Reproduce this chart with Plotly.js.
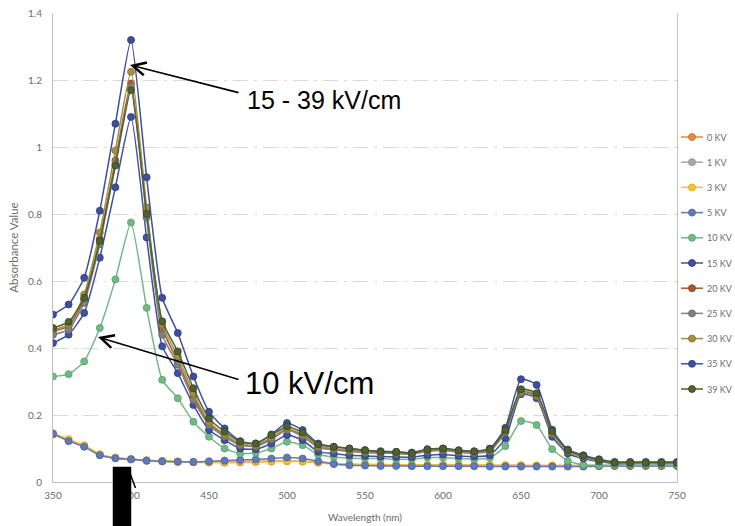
<!DOCTYPE html>
<html>
<head>
<meta charset="utf-8">
<script src="https://cdn.plot.ly/plotly-3.0.1.min.js"></script>
<style>html,body{margin:0;padding:0;background:#fff;}#chart{width:735px;height:526px;}</style>
</head>
<body>
<div id="chart"></div>
<script>
const wavelength = [350,360,370,380,390,400,410,420,430,440,450,460,470,480,490,500,510,520,530,540,550,560,570,580,590,600,610,620,630,640,650,660,670,680,690,700,710,720,730,740,750];
const seriesNames = ['0 KV','1 KV','3 KV','5 KV','10 KV','15 KV','20 KV','25 KV','30 KV','35 KV','39 KV'];
const kv0  = [0.142,0.125,0.108,0.082,0.072,0.068,0.064,0.062,0.060,0.059,0.058,0.058,0.059,0.060,0.061,0.062,0.061,0.058,0.055,0.053,0.052,0.052,0.051,0.051,0.051,0.051,0.051,0.050,0.050,0.050,0.050,0.049,0.049,0.049,0.049,0.049,0.049,0.049,0.049,0.049,0.049];
const kv1  = [0.143,0.124,0.107,0.081,0.071,0.067,0.063,0.061,0.060,0.059,0.059,0.060,0.061,0.062,0.063,0.064,0.062,0.058,0.054,0.052,0.051,0.050,0.050,0.050,0.050,0.050,0.049,0.049,0.049,0.048,0.048,0.048,0.048,0.048,0.048,0.048,0.048,0.048,0.048,0.048,0.048];
const kv3  = [0.146,0.128,0.110,0.083,0.073,0.069,0.065,0.063,0.061,0.060,0.060,0.060,0.061,0.061,0.062,0.063,0.062,0.058,0.055,0.053,0.052,0.051,0.051,0.051,0.050,0.050,0.050,0.050,0.050,0.049,0.049,0.049,0.049,0.049,0.049,0.049,0.049,0.049,0.049,0.049,0.049];
const kv5  = [0.144,0.122,0.105,0.080,0.071,0.068,0.064,0.062,0.061,0.060,0.062,0.064,0.066,0.067,0.070,0.073,0.070,0.062,0.054,0.050,0.049,0.048,0.048,0.047,0.047,0.047,0.047,0.047,0.046,0.046,0.046,0.046,0.046,0.046,0.046,0.047,0.048,0.048,0.048,0.048,0.048];
const kv10 = [0.315,0.322,0.360,0.460,0.605,0.775,0.520,0.305,0.250,0.180,0.135,0.100,0.085,0.087,0.100,0.120,0.110,0.082,0.075,0.072,0.070,0.070,0.068,0.068,0.073,0.073,0.070,0.068,0.072,0.107,0.182,0.170,0.098,0.063,0.051,0.050,0.050,0.050,0.050,0.050,0.050];
const kv15 = [0.415,0.440,0.505,0.670,0.880,1.090,0.730,0.405,0.325,0.230,0.155,0.125,0.100,0.098,0.115,0.140,0.125,0.090,0.085,0.080,0.078,0.076,0.075,0.074,0.080,0.082,0.078,0.076,0.080,0.130,0.262,0.250,0.135,0.085,0.070,0.061,0.055,0.055,0.055,0.055,0.055];
const kv20 = [0.450,0.465,0.545,0.725,0.960,1.190,0.810,0.460,0.360,0.255,0.175,0.140,0.112,0.108,0.130,0.158,0.140,0.105,0.098,0.093,0.090,0.087,0.086,0.084,0.093,0.095,0.090,0.087,0.094,0.150,0.270,0.258,0.146,0.092,0.075,0.064,0.057,0.057,0.057,0.057,0.057];
const kv25 = [0.440,0.455,0.535,0.710,0.950,1.180,0.790,0.440,0.350,0.245,0.170,0.135,0.110,0.106,0.127,0.155,0.137,0.103,0.096,0.091,0.088,0.086,0.085,0.083,0.092,0.094,0.089,0.086,0.092,0.148,0.266,0.255,0.144,0.091,0.074,0.063,0.056,0.056,0.056,0.056,0.056];
const kv30 = [0.455,0.470,0.560,0.745,0.990,1.225,0.820,0.470,0.375,0.265,0.180,0.142,0.114,0.110,0.133,0.160,0.142,0.107,0.100,0.095,0.092,0.089,0.088,0.085,0.095,0.097,0.092,0.089,0.096,0.152,0.272,0.260,0.148,0.093,0.076,0.065,0.057,0.057,0.057,0.057,0.057];
const kv35 = [0.500,0.530,0.610,0.810,1.070,1.320,0.910,0.550,0.445,0.315,0.210,0.160,0.122,0.115,0.142,0.176,0.155,0.115,0.105,0.100,0.095,0.092,0.090,0.088,0.098,0.100,0.095,0.092,0.100,0.162,0.307,0.290,0.156,0.097,0.080,0.068,0.060,0.060,0.060,0.060,0.060];
const kv39 = [0.460,0.478,0.550,0.720,0.945,1.170,0.800,0.480,0.390,0.280,0.190,0.150,0.120,0.115,0.140,0.166,0.148,0.112,0.105,0.100,0.095,0.090,0.090,0.086,0.097,0.100,0.094,0.091,0.098,0.155,0.277,0.265,0.152,0.095,0.078,0.066,0.058,0.058,0.058,0.058,0.058];
const xTicks = [350,400,450,500,550,600,650,700,750];
const yTicks = [0,0.2,0.4,0.6,0.8,1,1.2,1.4];

const allValues = [kv0,kv1,kv3,kv5,kv10,kv15,kv20,kv25,kv30,kv35,kv39];
const colors = ['#EC8A44','#A8A8A8','#F7C52A','#6279B8','#72B985','#3F51A0','#A65A2A','#808080','#A68E42','#3D4F9C','#4E6130'];
const edge   = ['#C96E2C','#8C8C8C','#D9A810','#4C63A0','#579E6A','#2E3D82','#844218','#656565','#86702C','#2E3C7E','#36451E'];

const traces = allValues.map((vals, i) => ({
  x: wavelength, y: vals, type: 'scatter', mode: 'lines+markers',
  name: seriesNames[i], showlegend: false,
  line: {color: colors[i], width: 1.5, shape: 'spline', smoothing: 0.5},
  marker: {color: colors[i], size: 7, line: {color: edge[i], width: 0.8}}
}));

// plot area geometry (pixels) used to place the hand-built legend and overlays
const W = 735, H = 526, mL = 53, mR = 58, mT = 13, mB = 44;
const pw = W - mL - mR, ph = H - mT - mB;
const px = p => (p - mL) / pw;
const py = p => (H - mB - p) / ph;

const labelFont = {family: 'Lato, "Open Sans", sans-serif', size: 10, color: '#6b6b6b'};
const legendShapes = [];
const legendAnn = [];
seriesNames.forEach((nm, i) => {
  const yc = 137 + i * 25.2;
  legendShapes.push({type: 'line', xref: 'paper', yref: 'paper', x0: px(681), x1: px(703), y0: py(yc), y1: py(yc),
                     line: {color: colors[i], width: 1.5}});
  legendShapes.push({type: 'circle', xref: 'paper', yref: 'paper', x0: px(688.5), x1: px(695.5), y0: py(yc + 3.5), y1: py(yc - 3.5),
                     fillcolor: colors[i], line: {color: edge[i], width: 0.8}});
  legendAnn.push({xref: 'paper', yref: 'paper', x: px(705), y: py(yc), xanchor: 'left', yanchor: 'middle',
                  showarrow: false, text: nm, font: {family: 'Lato, "Open Sans", sans-serif', size: 9, color: '#6b6b6b'}});
});

const layout = {
  width: W, height: H,
  margin: {l: mL, r: mR, t: mT, b: mB, autoexpand: false},
  paper_bgcolor: '#ffffff', plot_bgcolor: '#ffffff',
  showlegend: false,
  xaxis: {range: [350, 750], tickvals: xTicks, ticktext: xTicks.map(String), showgrid: false, zeroline: false,
          showline: true, linecolor: '#bfbfbf', linewidth: 1, ticks: '', tickfont: labelFont,
          ticklabelstandoff: 4,
          title: {text: 'Wavelength (nm)', font: labelFont, standoff: 13}},
  yaxis: {range: [0, 1.4005], tickvals: yTicks, ticktext: yTicks.map(String), showgrid: true, gridcolor: '#d9d9d9', griddash: 'longdashdot',
          gridwidth: 1, zeroline: false, showline: true, mirror: true, linecolor: '#bfbfbf', linewidth: 1, ticks: '',
          tickfont: labelFont, ticklabelstandoff: 8,
          title: {text: 'Absorbance Value', font: {family: 'Lato, "Open Sans", sans-serif', size: 11.5, color: '#6b6b6b'}, standoff: 7}},
  annotations: [
    {xref: 'paper', yref: 'paper', x: px(130), y: py(65), ax: 110, ay: 28, showarrow: true, text: '',
     arrowhead: 5, arrowsize: 1.6, arrowwidth: 1.6, arrowcolor: '#000000', standoff: 0},
    {xref: 'paper', yref: 'paper', x: px(245), y: py(100), xanchor: 'left', yanchor: 'middle', showarrow: false,
     text: '15 - 39 kV/cm', font: {family: '"Liberation Sans", Arial, sans-serif', size: 25, color: '#000000'}},
    {xref: 'paper', yref: 'paper', x: px(98), y: py(337), ax: 142, ay: 43, showarrow: true, text: '',
     arrowhead: 5, arrowsize: 1.6, arrowwidth: 1.6, arrowcolor: '#000000', standoff: 0},
    {xref: 'paper', yref: 'paper', x: px(243), y: py(383), xanchor: 'left', yanchor: 'middle', showarrow: false,
     text: '10 kV/cm', font: {family: '"Liberation Sans", Arial, sans-serif', size: 31, color: '#000000'}}
  ].concat(legendAnn),
  shapes: [
    {type: 'path', xref: 'paper', yref: 'paper',
     path: 'M' + px(113) + ',' + py(467) + 'L' + px(131) + ',' + py(467) + 'L' + px(131) + ',' + py(530) + 'L' + px(113) + ',' + py(530) + 'Z',
     fillcolor: '#000000', line: {color: '#000000', width: 0.5}, layer: 'above'},
    {type: 'line', xref: 'paper', yref: 'paper', x0: px(128), y0: py(468), x1: px(135.5), y1: py(488),
     line: {color: '#000000', width: 1.5}, layer: 'above'}
  ].concat(legendShapes)
};

Plotly.newPlot('chart', traces, layout, {staticPlot: true, displayModeBar: false});
</script>
</body>
</html>
